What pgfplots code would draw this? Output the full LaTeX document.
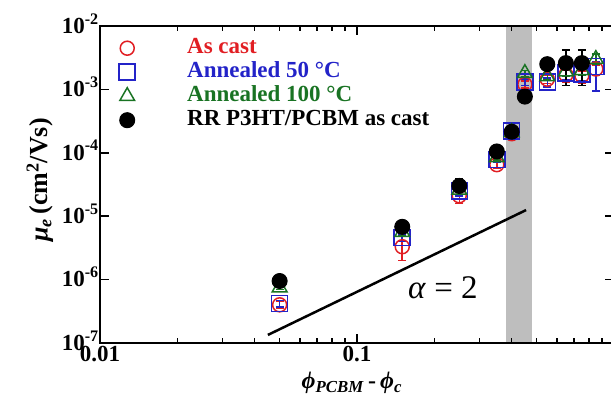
\documentclass[border=0pt]{standalone}
\usepackage{fontspec}
\setmainfont{Liberation Serif}
\usepackage{pgfplots}
\pgfplotsset{compat=1.18}
\usepackage{pgfplotstable}
\definecolor{cred}{RGB}{225,30,35}
\definecolor{cblue}{RGB}{35,35,200}
\definecolor{cgreen}{RGB}{25,115,35}
\definecolor{band}{RGB}{190,190,190}

\pgfplotstableread{
x y ep em
0.05 4.0e-7 0.5e-7 0.5e-7
0.15 3.3e-6 0.8e-6 1.3e-6
0.25 2.1e-5 0.4e-5 0.5e-5
0.35 6.5e-5 0.8e-5 0.8e-5
0.40 2.0e-4 0.2e-4 0.2e-4
0.45 1.2e-3 0.15e-3 0.15e-3
0.55 1.45e-3 0.2e-3 0.2e-3
0.65 1.7e-3 0.3e-3 0.4e-3
0.75 1.65e-3 0.3e-3 0.4e-3
0.85 2.1e-3 0.3e-3 0.4e-3
}\redtab

\pgfplotstableread{
x y ep em
0.05 4.2e-7 0.5e-7 0.5e-7
0.15 4.6e-6 0.6e-6 0.6e-6
0.25 2.5e-5 0.4e-5 0.4e-5
0.35 7.8e-5 0.8e-5 0.8e-5
0.40 2.2e-4 0.2e-4 0.2e-4
0.45 1.3e-3 0.15e-3 0.15e-3
0.55 1.3e-3 0.2e-3 0.2e-3
0.65 1.8e-3 0.3e-3 0.4e-3
0.75 1.75e-3 0.3e-3 0.4e-3
0.85 2.3e-3 0.4e-3 1.35e-3
}\bluetab

\pgfplotstableread{
x y ep em
0.05 7.5e-7 0.5e-7 0.5e-7
0.15 5.6e-6 0.6e-6 0.6e-6
0.25 2.6e-5 0.4e-5 0.4e-5
0.35 8.5e-5 0.8e-5 0.8e-5
0.40 2.1e-4 0.2e-4 0.2e-4
0.45 1.8e-3 0.2e-3 0.2e-3
0.55 1.6e-3 0.2e-3 0.2e-3
0.65 1.9e-3 0.3e-3 0.3e-3
0.75 2.0e-3 0.3e-3 0.3e-3
0.85 3.0e-3 0.6e-3 0.5e-3
}\greentab

\pgfplotstableread{
x y ep em
0.05 9.5e-7 0.5e-7 0.5e-7
0.15 6.8e-6 0.6e-6 0.6e-6
0.25 3.0e-5 0.9e-5 0.5e-5
0.35 1.05e-4 0.1e-4 0.1e-4
0.40 2.15e-4 0.2e-4 0.2e-4
0.45 7.7e-4 0.6e-4 0.6e-4
0.55 2.5e-3 0.2e-3 0.2e-3
0.65 2.6e-3 1.6e-3 1.45e-3
0.75 2.6e-3 1.6e-3 1.45e-3
}\blacktab

\newcommand\bigf{\fontsize{23}{24}\selectfont\bfseries}

\begin{document}
\begin{tikzpicture}
\path[use as bounding box] (-100pt,-66pt) rectangle (511pt,343pt);
\begin{axis}[
  name=ax, at={(0,0)}, anchor=south west,
  scale only axis, width=514pt, height=317pt,
  xmode=log, ymode=log,
  xmin=0.01, xmax=1, ymin=1e-7, ymax=1e-2,
  axis on top,
  axis line style={line width=2.5pt},
  tick align=inside,
  major tick length=9pt, minor tick length=5pt,
  every tick/.style={black, line width=1.5pt},
  xtick={0.01,0.1}, xticklabels={0.01,0.1},
  minor xtick={0.02,0.03,0.04,0.05,0.06,0.07,0.08,0.09,0.2,0.3,0.4,0.5,0.6,0.7,0.8,0.9},
  ytick={1e-7,1e-6,1e-5,1e-4,1e-3,1e-2},
  yminorticks=false,
  yticklabels={10\textsuperscript{-7},10\textsuperscript{-6},10\textsuperscript{-5},10\textsuperscript{-4},10\textsuperscript{-3},10\textsuperscript{-2}},
  tick label style={font=\bigf},
  yticklabel style={inner sep=1pt, yshift=2.5pt},
  xlabel={\textit{ϕ}\textsubscript{\textit{PCBM}}\,-\,\textit{ϕ}\textsubscript{\textit{c}}},
  xlabel style={font=\fontsize{24}{26}\selectfont\bfseries, at={(axis description cs:0.49,-0.145)}, anchor=base},
  ylabel={\textit{μ}\textsubscript{\textit{e}}\,(cm\textsuperscript{2}/Vs)},
  ylabel style={font=\fontsize{26}{28}\selectfont\bfseries, at={(axis description cs:-0.117,0.514)}, anchor=center},
  legend style={at={(axis description cs:0,1)}, anchor=north west, xshift=18.5pt, yshift=-10pt,
    draw=none, fill=none, inner sep=0pt, font=\bigf, row sep=0pt,
    nodes={inner sep=0pt, text height=17pt, text depth=7pt, anchor=west}},
  legend cell align=left,
  legend image code/.code={\draw[#1] plot coordinates {(0.3cm,0cm)}; \path[draw=none] (0cm,0cm) -- (68.5pt,0cm);},
  error bars/error bar style={line width=1.5pt},
  error bars/error mark options={rotate=90, mark size=4pt, line width=1.5pt},
]
\fill[band] (axis cs:0.38,1e-7) rectangle (axis cs:0.48,1e-2);
\addplot[black, line width=2.5pt, forget plot] coordinates {(0.045,1.34e-7) (0.455,1.25e-5)};

\addplot[cred, only marks, mark=o, mark size=7pt, line width=1.5pt,
  error bars/.cd, y dir=both, y explicit]
  table[x=x, y=y, y error plus=ep, y error minus=em] {\redtab};
\addlegendentry{\textcolor{cred}{As cast}}
\addplot[cblue, only marks, mark=square, mark size=8pt, line width=1.5pt,
  error bars/.cd, y dir=both, y explicit]
  table[x=x, y=y, y error plus=ep, y error minus=em] {\bluetab};
\addlegendentry{\textcolor{cblue}{Annealed 50 °C}}
\addplot[cgreen, only marks, mark=triangle, mark size=8.5pt, line width=1.5pt,
  error bars/.cd, y dir=both, y explicit]
  table[x=x, y=y, y error plus=ep, y error minus=em] {\greentab};
\addlegendentry{\textcolor{cgreen}{Annealed 100 °C}}
\addplot[black, only marks, mark=*, mark size=7.5pt, line width=1pt,
  error bars/.cd, y dir=both, y explicit]
  table[x=x, y=y, y error plus=ep, y error minus=em] {\blacktab};
\addlegendentry{RR P3HT/PCBM as cast}

\node[font=\fontsize{33}{35}\selectfont, anchor=center] at (axis cs:0.216,7.4e-7) {\textit{α} = 2};
\end{axis}
\end{tikzpicture}
\end{document}
